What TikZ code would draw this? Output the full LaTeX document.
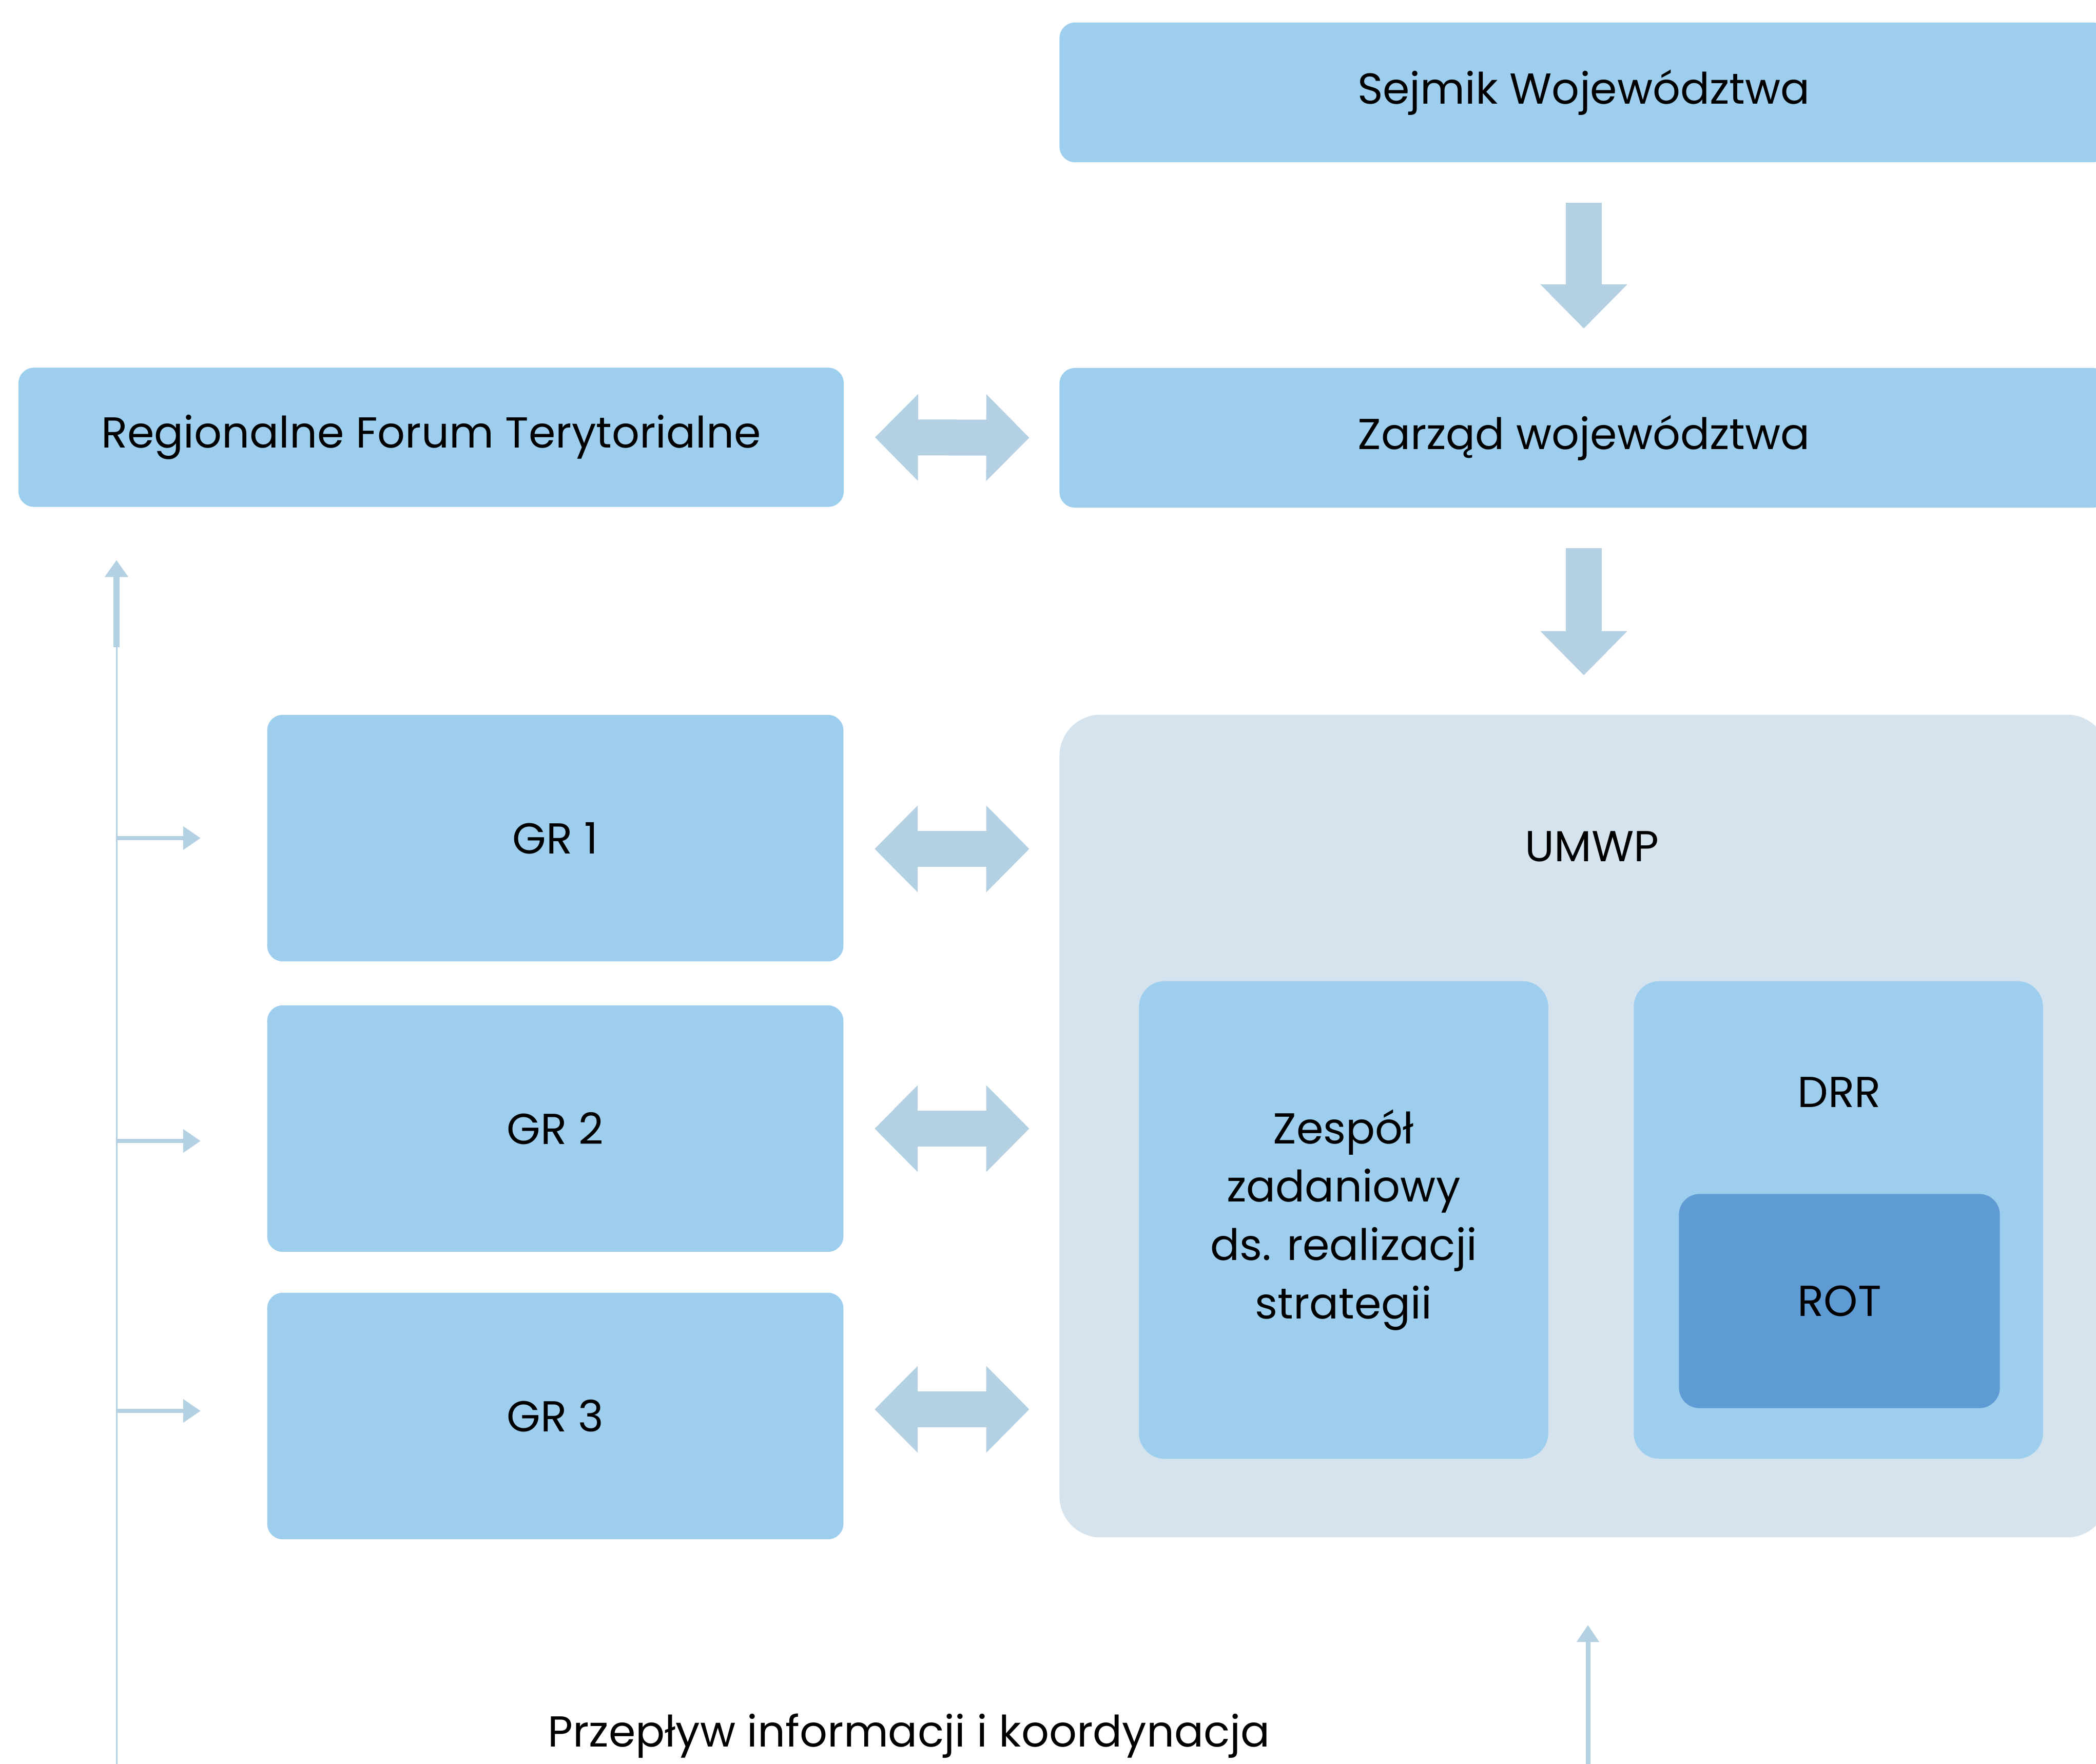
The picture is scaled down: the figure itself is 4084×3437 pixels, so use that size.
\documentclass[tikz,border=0pt]{standalone}
\usepackage{fontspec}
\setmainfont{Poppins}
\usetikzlibrary{positioning,calc,arrows.meta}
\definecolor{boxblue}{RGB}{157,206,238}
\definecolor{arrblue}{RGB}{180,209,227}
\definecolor{umwpgrey}{RGB}{213,227,238}
\definecolor{rotblue}{RGB}{94,155,212}

\begin{document}
\begin{tikzpicture}[x=0.01cm,y=-0.01cm]
  \tikzstyle{lbl}=[font=\fontsize{24}{32.4}\selectfont,text=black,inner sep=0pt]
  \tikzstyle{box}=[fill=boxblue,rounded corners=0.3cm,lbl]
  \tikzstyle{wide}=[box,minimum width=20.42cm,minimum height=2.72cm]
  \tikzstyle{gr}=[box,minimum width=11.22cm,minimum height=4.80cm]
  \tikzstyle{unit}=[box,rounded corners=0.5cm,minimum width=7.97cm,minimum height=9.30cm,align=center]
  \tikzstyle{blk}=[draw=arrblue,line width=0.7cm]
  \tikzstyle{dbl}=[blk,{Triangle[length=0.84cm,width=1.64cm]}-{Triangle[length=0.84cm,width=1.64cm]},shorten <=0.6cm,shorten >=0.58cm]
  \tikzstyle{down}=[blk,-{Triangle[length=0.86cm,width=1.64cm]},shorten <=0.78cm,shorten >=0.76cm]
  \tikzstyle{flow}=[draw=arrblue,line width=0.08cm,-{Triangle[length=0.34cm,width=0.44cm]}]
  \useasboundingbox (0,0) rectangle (4084,3437);
  % boxes
  \node [wide] (sejmik) at (3086,180) {Sejmik Województwa};
  \node [wide] (zarzad) at (3086,853) {Zarząd województwa};
  \node [box,minimum width=16.07cm,minimum height=2.71cm] (rft) at (840,852) {Regionalne Forum Terytorialne};
  \node [fill=umwpgrey,rounded corners=0.8cm,minimum width=20.42cm,minimum height=16.02cm] (umwp) at (3086,2194) {};
  \node [lbl] (umwpt) at (3102,1649) {UMWP};
  \node [unit] (zespol) at (2618,2377) {Zespół\\zadaniowy\\ds. realizacji\\strategii};
  \node [unit] (drr) at (3582,2377) {};
  \node [lbl] (drrt) at (3584,2128) {DRR};
  \node [box,fill=rotblue,rounded corners=0.4cm,minimum width=6.25cm,minimum height=4.17cm] (rot) at (3584,2535) {ROT};
  \node [gr] (gr1) at (1082,1633) {GR 1};
  \node [gr] (gr2) at (1082,2199) {GR 2};
  \node [gr] (gr3) at (1082,2759) {GR 3};
  \node [lbl,anchor=base] (info) at (1771,3403) {Przepływ informacji i koordynacja};
  % block arrows
  \draw [down] (sejmik.south) -- (zarzad.north);
  \draw [down] (zarzad.south) -- (umwp.north);
  \draw [dbl] (rft.east) -- (zarzad.west);
  \coordinate (g1) at ([yshift=-0.21cm]gr1.east);
  \draw [dbl] (g1) -- (g1 -| umwp.west);
  \draw [dbl] (gr2.east) -- (gr2.east -| umwp.west);
  \coordinate (g3) at ([yshift=0.13cm]gr3.east);
  \draw [dbl] (g3) -- (g3 -| umwp.west);
  % information flow
  \coordinate (lb) at (227,3437);
  \coordinate (lt) at (227,1261);
  \draw [draw=arrblue,line width=0.03cm] (lb) -- (lt);
  \draw [flow,line width=0.11cm,-{Triangle[length=0.33cm,width=0.44cm]},shorten >=1.03cm] (lt) -- (lt |- rft.south);
  \draw [flow,shorten >=1.29cm] (lb |- gr1.west) -- (gr1.west);
  \coordinate (g2) at ([yshift=-0.24cm]gr2.west);
  \draw [flow,shorten >=1.29cm] (lb |- g2) -- (g2);
  \coordinate (g4) at ([yshift=0.1cm]gr3.west);
  \draw [flow,shorten >=1.29cm] (lb |- g4) -- (g4);
  \coordinate (ub) at (3094,3437);
  \draw [flow,line width=0.09cm,-{Triangle[length=0.33cm,width=0.42cm]},shorten >=1.70cm] (ub) -- (ub |- umwp.south);
\end{tikzpicture}
\end{document}
